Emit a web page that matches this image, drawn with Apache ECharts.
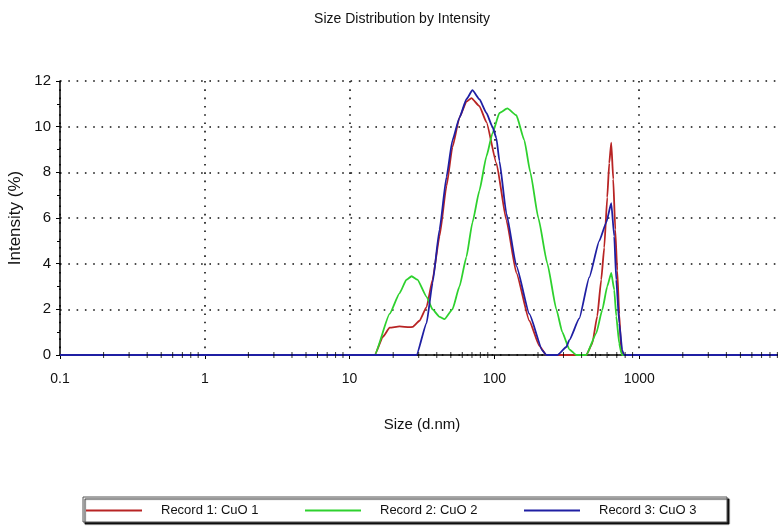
<!DOCTYPE html>
<html>
<head>
<meta charset="utf-8">
<script src="https://cdn.jsdelivr.net/npm/echarts@6/dist/echarts.min.js"></script>
<style>
  html, body { margin: 0; padding: 0; background: #fff; }
  #chart { width: 778px; height: 527px; }
</style>
</head>
<body>
<div id="chart"></div>
<script>
// Size distribution by intensity for three CuO records (size in d.nm, intensity in %)
const seriesNames = ['Record 1: CuO 1', 'Record 2: CuO 2', 'Record 3: CuO 3'];

const record1Size = [0.1, 14.9, 17.0, 18.9, 22.1, 25.9, 27.2, 30.4, 34.0, 37.4, 41.8, 46.7, 51.3, 57.4, 64.1, 69.4,
  78.8, 88.1, 103.2, 121.0, 141.8, 174.3, 204.3, 228.4, 431.0, 474.0, 513.2, 546.8, 573.5, 601.6, 621.0,
  641.1, 661.8, 683.2, 705.3, 728.1, 751.6, 763.7, 10000];
const record1Intensity = [0, 0, 0.8, 1.2, 1.25, 1.22, 1.23, 1.5, 2.1, 3.3, 5.2, 7.4, 9.1, 10.4, 11.1, 11.25,
  10.9, 10.2, 8.4, 5.9, 3.6, 1.5, 0.4, 0, 0, 0.5, 1.7, 3.3, 4.7, 6.9, 8.4,
  9.3, 7.7, 5.5, 3.7, 1.8, 0.2, 0, 0];

const record2Size = [0.1, 14.9, 18.9, 22.1, 24.7, 26.8, 29.4, 34.0, 37.4, 41.8, 45.2, 51.3, 57.4, 64.1, 70.5,
  78.8, 88.1, 96.9, 108.3, 122.9, 141.8, 161.0, 177.1, 201.1, 232.1, 267.8, 294.4, 329.0, 367.8, 431.0,
  505.1, 555.6, 601.6, 641.1, 672.4, 694.2, 728.1, 751.6, 763.7, 10000];
const record2Intensity = [0, 0, 1.8, 2.7, 3.3, 3.45, 3.3, 2.55, 2.0, 1.67, 1.57, 2.0, 3.0, 4.3, 5.8,
  7.2, 8.7, 9.7, 10.6, 10.8, 10.5, 9.4, 8.0, 6.0, 4.0, 2.0, 1.0, 0.25, 0, 0,
  0.95, 1.97, 3.0, 3.6, 2.85, 1.7, 0.5, 0.1, 0, 0];

const record3Size = [0.1, 29.0, 34.0, 37.4, 41.8, 46.7, 51.3, 57.4, 64.1, 70.5, 78.8, 88.1, 96.9, 103.2, 108.3,
  121.0, 141.8, 174.3, 214.3, 228.4, 272.1, 313.8, 329.0, 385.6, 451.9, 530.0, 592.1, 641.1, 672.4,
  694.2, 728.1, 763.7, 788.3, 10000];
const record3Intensity = [0, 0, 1.4, 3.15, 5.5, 7.8, 9.4, 10.4, 11.2, 11.6, 11.2, 10.6, 10.0, 9.5, 8.5,
  6.2, 3.9, 1.8, 0.2, 0, 0, 0.35, 0.65, 1.6, 3.4, 5.0, 5.8, 6.65, 5.2,
  3.3, 1.4, 0.2, 0, 0];

const xTickLabels = ['0.1', '1', '10', '100', '1000'];
const xMinorTicks = [0.2, 0.3, 0.4, 0.5, 0.6, 0.7, 0.8, 0.9,
  2, 3, 4, 5, 6, 7, 8, 9,
  20, 30, 40, 50, 60, 70, 80, 90,
  200, 300, 400, 500, 600, 700, 800, 900,
  2000, 3000, 4000, 5000, 6000, 7000, 8000, 9000];

const colors = ['#b82424', '#2ed12e', '#1f1fa3'];
const FONT = "'Liberation Sans', Arial, sans-serif";

function pairs(xs, ys) {
  return xs.map((x, i) => [x, ys[i]]);
}

const chart = echarts.init(document.getElementById('chart'), null, { renderer: 'canvas' });

const dotted = { color: '#111', width: 1.6, type: [1.6, 6.7] };

const lineSeries = [
  [record1Size, record1Intensity],
  [record2Size, record2Intensity],
  [record3Size, record3Intensity]
].map((d, i) => ({
  name: seriesNames[i],
  type: 'line',
  data: pairs(d[0], d[1]),
  showSymbol: false,
  symbol: 'none',
  smooth: 0.15,
  smoothMonotone: 'x',
  lineStyle: { color: colors[i], width: 1.8 },
  itemStyle: { color: colors[i] },
  z: 3 + i,
  animation: false
}));

const legendLeft = [86, 305, 524];

chart.setOption({
  animation: false,
  backgroundColor: '#fff',
  textStyle: { fontFamily: FONT },
  grid: {
    left: 60, top: 81, width: 724, height: 274,
    containLabel: false,
    outerBoundsMode: 'none'
  },
  xAxis: {
    type: 'log',
    logBase: 10,
    min: 0.1,
    max: 10000,
    name: 'Size (d.nm)',
    nameLocation: 'middle',
    nameGap: 62,
    nameTextStyle: { fontSize: 15, color: '#111', fontFamily: FONT },
    axisLine: { show: true, onZero: false, lineStyle: { color: '#000', width: 1.5 } },
    axisTick: { show: true, length: 4, lineStyle: { color: '#000' } },
    axisLabel: {
      fontSize: 14, color: '#111', margin: 17, fontFamily: FONT,
      formatter: v => {
        const s = String(+v.toPrecision(3));
        return xTickLabels.indexOf(s) >= 0 ? s : '';
      }
    },
    splitLine: { show: true, lineStyle: dotted }
  },
  yAxis: {
    type: 'value',
    min: 0,
    max: 12,
    interval: 2,
    name: 'Intensity (%)',
    nameLocation: 'middle',
    nameGap: 33,
    nameRotate: 90,
    nameTextStyle: { fontSize: 17, color: '#111', fontFamily: FONT },
    axisLine: { show: true, lineStyle: { color: '#000', width: 1.5 } },
    axisTick: { show: true, length: 4, lineStyle: { color: '#000' } },
    minorTick: { show: true, splitNumber: 2, length: 3, lineStyle: { color: '#000' } },
    axisLabel: { fontSize: 15, color: '#111', margin: 9, fontFamily: FONT },
    splitLine: { show: true, lineStyle: dotted }
  },
  legend: seriesNames.map((n, i) => ({
    data: [{ name: n, icon: 'rect' }],
    left: legendLeft[i],
    top: 504,
    itemWidth: 56,
    itemHeight: 2,
    padding: 0,
    selectedMode: false,
    formatter: '{t|{name}}',
    textStyle: {
      color: '#111',
      fontFamily: FONT,
      fontSize: 13,
      rich: { t: { padding: [0, 0, 0, 14], fontSize: 13, fontFamily: FONT, color: '#111' } }
    }
  })),
  graphic: [
    {
      type: 'text',
      x: 402,
      y: 19,
      style: {
        text: 'Size Distribution by Intensity',
        fill: '#111',
        font: '14px ' + FONT,
        textAlign: 'center',
        textVerticalAlign: 'middle'
      }
    },
    {
      type: 'rect',
      z: -1,
      shape: { x: 83, y: 497, width: 644, height: 25 },
      style: {
        fill: '#fff',
        stroke: '#555',
        lineWidth: 1,
        shadowColor: 'rgba(0,0,0,0.9)',
        shadowOffsetX: 2,
        shadowOffsetY: 2,
        shadowBlur: 1
      }
    }
  ],
  series: lineSeries.concat([{
    name: 'minor ticks',
    type: 'scatter',
    data: xMinorTicks.map(v => [v, 0]),
    symbol: 'rect',
    symbolSize: [1, 6],
    itemStyle: { color: '#000' },
    silent: true,
    z: 10,
    animation: false
  }])
});
</script>
</body>
</html>
